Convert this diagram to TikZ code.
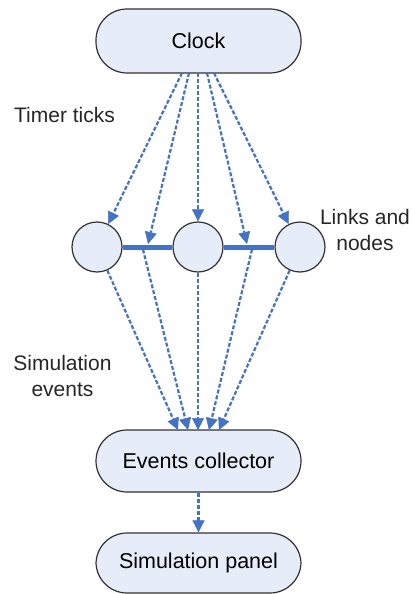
\documentclass[tikz,border=0pt]{standalone}
\usepackage{fontspec}
\setmainfont{Liberation Sans}
\usetikzlibrary{arrows.meta}
\definecolor{boxfill}{RGB}{230,236,248}
\definecolor{boxline}{RGB}{50,50,50}
\definecolor{flow}{RGB}{68,114,196}
\tikzset{
  capsule/.style={draw=boxline, fill=boxfill, line width=1.2pt, rounded corners=31pt,
    minimum width=205pt, minimum height=#1, inner sep=0pt, font=\fontsize{21.5}{26}\selectfont},
  netnode/.style={circle, draw=boxline, fill=boxfill, line width=1.2pt, minimum size=50pt, inner sep=0pt},
  label/.style={align=center, inner sep=0pt, font=\fontsize{21}{26.5}\selectfont, text=black!85},
  linkline/.style={draw=flow, line width=5pt},
  tick/.style={draw=flow, line width=2.2pt, dash pattern=on 4pt off 2pt,
    -{Triangle[length=12pt,width=12pt,fill=flow,line width=0.5pt]}},
}
\begin{document}
\begin{tikzpicture}[x=1pt,y=-1pt]
\useasboundingbox (0,0) rectangle (412,594);
% boxes
\node[capsule=64pt] (clock) at (198.5,41) {Clock};
\node[capsule=62pt] (coll) at (198.5,461) {Events collector};
\node[capsule=60pt] (panel) at (198.5,563) {Simulation panel};
% network nodes
\node[netnode] (c1) at (97,247) {};
\node[netnode] (c2) at (198,247) {};
\node[netnode] (c3) at (300,247) {};
\draw[linkline] (c1.east) -- (c2.west);
\draw[linkline] (c2.east) -- (c3.west);
% labels
\node[label] (lt) at (64.5,115) {Timer ticks};
\node[label] (ll) at (365,230) {Links and\\nodes};
\node[label] (ls) at (62.5,376) {Simulation\\events};
% coordinates
\coordinate (t1) at (182,73);
\coordinate (t2) at (189,73);
\coordinate (t3) at (198,73);
\coordinate (t4) at (207,73);
\coordinate (t5) at (214,73);
\coordinate (a1) at (148,244);
\coordinate (a2) at (247,244);
\coordinate (b1) at (143,249.5);
\coordinate (b2) at (252,249.5);
\coordinate (e1) at (178,430);
\coordinate (e2) at (188,430);
\coordinate (e3) at (198,430);
\coordinate (e4) at (209,430);
\coordinate (e5) at (219,430);
% timer ticks
\draw[tick] (t1) -- (c1);
\draw[tick] (t2) -- (a1);
\draw[tick] (t3) -- (c2);
\draw[tick] (t4) -- (a2);
\draw[tick] (t5) -- (c3);
% simulation events
\draw[tick] (c1) -- (e1);
\draw[tick] (b1) -- (e2);
\draw[tick] (c2) -- (e3);
\draw[tick] (b2) -- (e4);
\draw[tick] (c3) -- (e5);
% collector to panel
\draw[tick] (coll) -- (panel);
\end{tikzpicture}
\end{document}
